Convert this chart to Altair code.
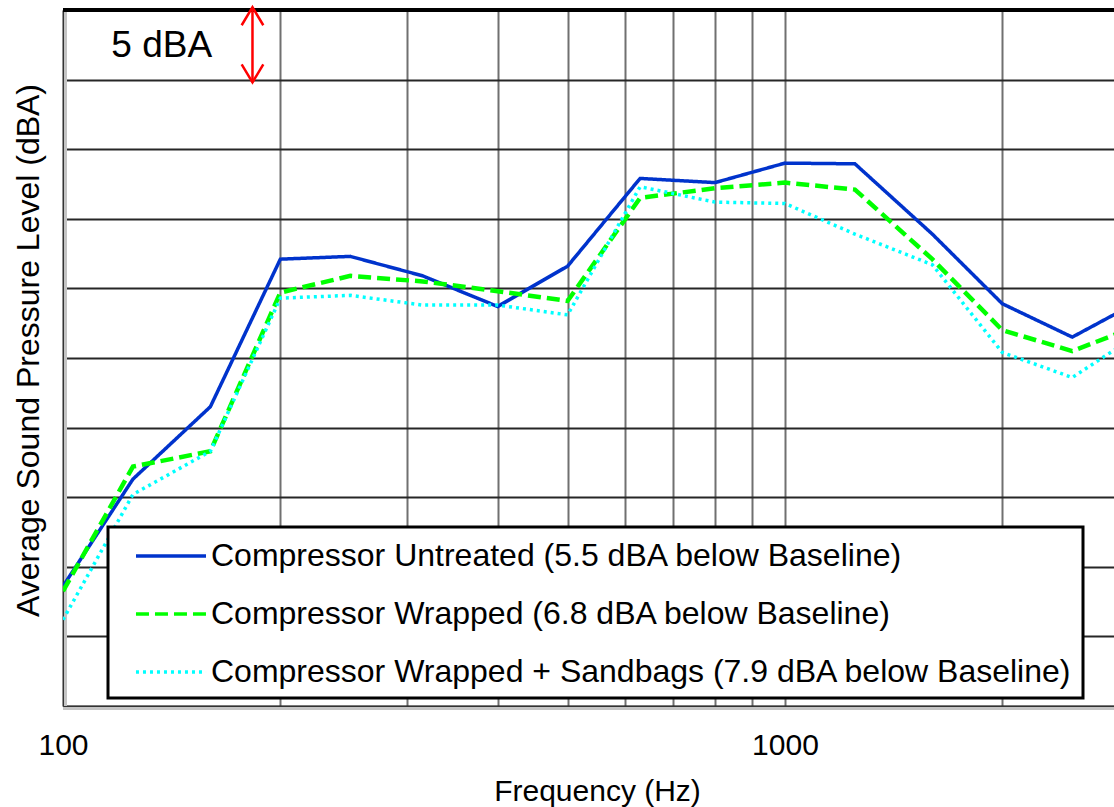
import altair as alt
import pandas as pd

FONT = "Liberation Sans"

# 1/3-octave band centre frequencies (Hz)
freq = [100, 125, 160, 200, 250, 315, 400, 500, 630, 800, 1000, 1250, 1600, 2000, 2500, 3150]

# Relative levels (dBA, arbitrary zero; gridline every 5 dBA)
untreated = [8.6, 16.3, 21.5, 32.1, 32.3, 30.9, 28.7, 31.6, 37.9, 37.6, 39.0, 38.95, 33.9, 28.9, 26.5, 29.3]
wrapped = [8.25, 17.2, 18.3, 29.7, 30.9, 30.5, 29.8, 29.1, 36.5, 37.2, 37.6, 37.1, 32.1, 27.0, 25.5, 27.5]
sandbags = [6.2, 15.2, 18.3, 29.3, 29.5, 28.8, 28.8, 28.1, 37.3, 36.2, 36.1, 33.9, 31.7, 25.4, 23.6, 27.0]

series = [
    "Compressor Untreated (5.5 dBA below Baseline)",
    "Compressor Wrapped (6.8 dBA below Baseline)",
    "Compressor Wrapped + Sandbags (7.9 dBA below Baseline)",
]
colors = ["#0033cc", "#00ff00", "#00ffff"]
dashes = [[1, 0], [13, 6], [3, 4]]
widths = [3.5, 4.5, 3.5]

x_grid = [100, 200, 300, 400, 500, 600, 700, 800, 900, 1000, 2000]
x_labels = [100, 1000]
y_grid = [0, 5, 10, 15, 20, 25, 30, 35, 40, 45, 50]

# annotation
ann = pd.DataFrame({
    "text": ["5 dBA"],
    "text_freq": [137],
    "text_level": [47.4],
    "arrow_freq": [183],
    "arrow_low": [44.8],
    "arrow_high": [50.2],
})

rows = []
for name, vals in zip(series, [untreated, wrapped, sandbags]):
    for f, v in zip(freq, vals):
        rows.append({"freq": f, "level": v, "series": name})
df = pd.DataFrame(rows)

legend = alt.Legend(
    title=None, orient="none", legendX=45, legendY=517,
    symbolType="M-2.06,0L2.06,0", symbolSize=1156, symbolStrokeWidth=3.5,
    symbolOffset=34,
    labelFontSize=32, labelFont=FONT, labelColor="black", labelLimit=2000,
    labelOffset=21, padding=10, rowPadding=23,
    strokeColor="black", fillColor="white",
)

xenc = alt.X(
    "freq:Q",
    scale=alt.Scale(type="log", domain=[100, 2856], nice=False),
    axis=alt.Axis(
        values=x_grid, format="d",
        labelExpr="(datum.value == %d || datum.value == %d) ? datum.label : ''" % tuple(x_labels),
        labelFlush=False,
        grid=True, gridColor="#707070", gridWidth=2,
        ticks=False, tickSize=0, domainColor="#333333", domainWidth=1.5,
        labelFontSize=30, labelFont=FONT, labelColor="black", labelPadding=24,
        title="Frequency (Hz)", titleFontSize=30, titleFont=FONT, titleColor="black",
        titleFontWeight="normal", titleX=534, titleY=94, titleBaseline="alphabetic",
    ),
)
yenc = alt.Y(
    "level:Q",
    scale=alt.Scale(domain=[0, 50], nice=False),
    axis=alt.Axis(
        values=y_grid, labels=False, ticks=False, tickSize=0,
        grid=True, gridColor="#262626", gridWidth=2,
        domainColor="#333333", domainWidth=1.5,
        title="Average Sound Pressure Level (dBA)", titleFontSize=32, titleFont=FONT,
        titleColor="black", titleFontWeight="normal", titleAngle=270,
        titleX=-25, titleY=340, titleBaseline="alphabetic", titleAlign="center",
    ),
)

layers = []
for name, w in zip(series, widths):
    layers.append(
        alt.Chart(df).transform_filter(alt.datum.series == name)
        .mark_line(clip=True, strokeWidth=w)
        .encode(
            x=xenc, y=yenc,
            color=alt.Color("series:N", scale=alt.Scale(domain=series, range=colors), legend=legend),
            strokeDash=alt.StrokeDash("series:N", scale=alt.Scale(domain=series, range=dashes), legend=legend),
        )
    )

top_rule = alt.Chart(ann).mark_rule(color="black", strokeWidth=4).encode(y=alt.datum(50))
left_shadow = alt.Chart(ann).mark_rule(color="#c4c4c4", strokeWidth=3, xOffset=2.5).encode(
    x=alt.datum(100), y=alt.datum(0), y2=alt.datum(50)
)
bottom_shadow = alt.Chart(ann).mark_rule(color="#c4c4c4", strokeWidth=3, yOffset=2.5).encode(
    y=alt.datum(0)
)

arrow = alt.Chart(ann).mark_rule(color="red", strokeWidth=2.5).encode(
    x="arrow_freq:Q", y="arrow_low:Q", y2="arrow_high:Q"
)
head_top = alt.Chart(ann).mark_point(
    shape="M-0.6,1L0,0L0.6,1", size=1300, filled=False, color="red", strokeWidth=2.5, opacity=1
).encode(x="arrow_freq:Q", y="arrow_high:Q")
head_bot = alt.Chart(ann).mark_point(
    shape="M-0.6,-1L0,0L0.6,-1", size=1300, filled=False, color="red", strokeWidth=2.5, opacity=1
).encode(x="arrow_freq:Q", y="arrow_low:Q")
label = alt.Chart(ann).mark_text(
    fontSize=37, font=FONT, color="black", align="center", baseline="middle"
).encode(x="text_freq:Q", y="text_level:Q", text="text:N")

chart = alt.layer(
    left_shadow, bottom_shadow, *layers, top_rule, arrow, head_top, head_bot, label
).properties(
    width=1051, height=696,
    autosize=alt.AutoSizeParams(type="none"),
    padding={"left": 63, "top": 10, "right": 0, "bottom": 101},
    background="white",
).configure_view(stroke=None).configure_legend(strokeWidth=3)

chart.save("out.html", embed_options={"renderer": "svg", "actions": False})
